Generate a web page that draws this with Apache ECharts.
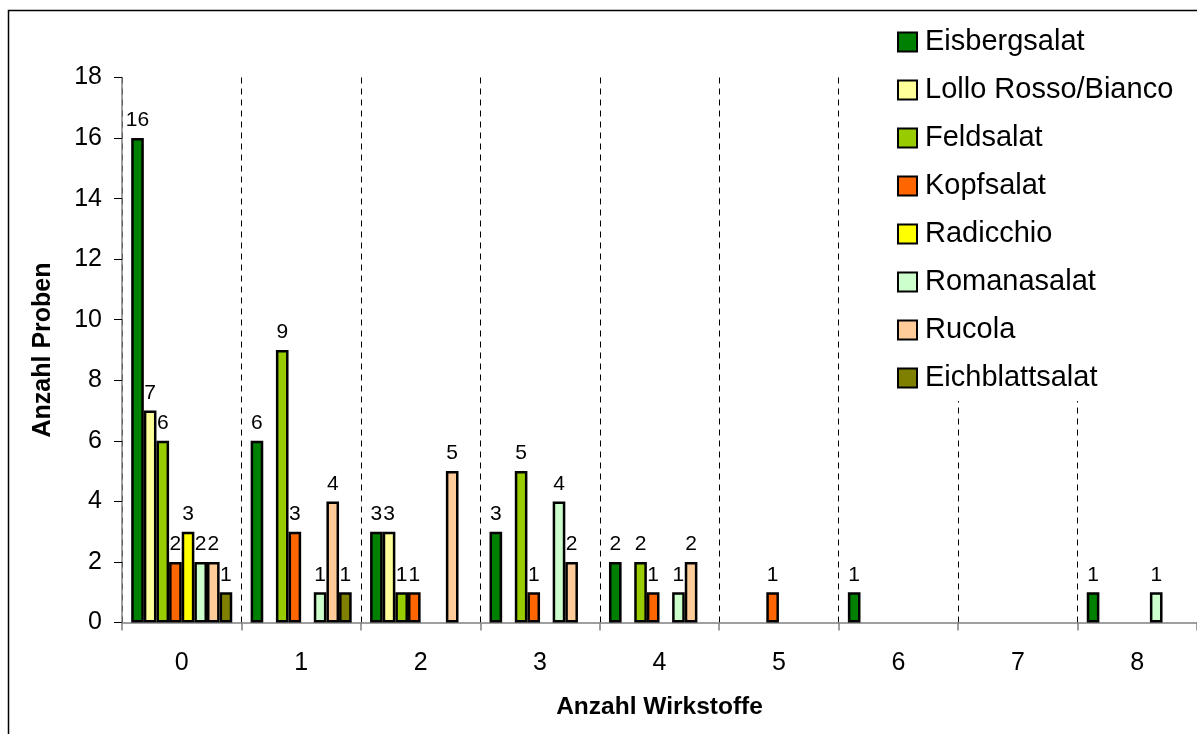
<!DOCTYPE html>
<html>
<head>
<meta charset="utf-8">
<script src="https://cdn.jsdelivr.net/npm/echarts@6/dist/echarts.min.js"></script>
<style>
html,body{margin:0;padding:0;background:#fff;}
#chart{width:1197px;height:734px;}
</style>
</head>
<body>
<div id="chart"></div>
<script>
var categories = ['0','1','2','3','4','5','6','7','8'];
var seriesNames = ['Eisbergsalat','Lollo Rosso/Bianco','Feldsalat','Kopfsalat','Radicchio','Romanasalat','Rucola','Eichblattsalat'];
var eisbergsalat   = [16, 6, 3, 3, 2, null, 1, null, 1];
var lolloRosso     = [7, null, 3, null, null, null, null, null, null];
var feldsalat      = [6, 9, 1, 5, 2, null, null, null, null];
var kopfsalat      = [2, 3, 1, 1, 1, 1, null, null, null];
var radicchio      = [3, null, null, null, null, null, null, null, null];
var romanasalat    = [2, 1, null, 4, 1, null, null, null, 1];
var rucola         = [2, 4, 5, 2, 2, null, null, null, null];
var eichblattsalat = [1, 1, null, null, null, null, null, null, null];
var yTicks = {min: 0, max: 18, interval: 2};

var values = [eisbergsalat, lolloRosso, feldsalat, kopfsalat, radicchio, romanasalat, rucola, eichblattsalat];
var colors = ['#008000','#FFFF99','#99CC00','#FF6600','#FFFF00','#CCFFCC','#FFCC99','#808000'];
var FONT = 'Liberation Sans, Arial, sans-serif';

var chart = echarts.init(document.getElementById('chart'), null, {renderer: 'canvas'});
var series = values.map(function (v, i) {
  return {
    name: seriesNames[i],
    type: 'bar',
    data: v,
    barGap: '0%',
    barCategoryGap: '15.4%',
    itemStyle: {color: colors[i], borderColor: '#000', borderWidth: 2.5},
    label: {show: true, position: 'top', distance: 7, color: '#000', fontFamily: FONT, fontSize: 21},
    emphasis: {disabled: true}
  };
});

chart.setOption({
  animation: false,
  backgroundColor: '#fff',
  textStyle: {fontFamily: FONT},
  graphic: [{
    type: 'rect', z: -10,
    shape: {x: 8.5, y: 10.5, width: 1200, height: 740},
    style: {fill: null, stroke: '#000', lineWidth: 1.5}
  }],
  grid: {left: 122, top: 77.5, right: 0, bottom: 111.5, containLabel: false},
  legend: {
    orient: 'vertical',
    left: 889, top: 19,
    padding: [8, 30, 8, 8],
    backgroundColor: '#fff',
    itemWidth: 19, itemHeight: 19, itemGap: 18,
    icon: 'rect',
    itemStyle: {borderColor: '#000', borderWidth: 2},
    textStyle: {fontFamily: FONT, fontSize: 29, color: '#000', lineHeight: 30, padding: [0, 0, 0, 3]},
    data: seriesNames
  },
  xAxis: {
    type: 'category',
    data: categories,
    name: 'Anzahl Wirkstoffe',
    nameLocation: 'middle',
    nameGap: 72,
    nameTextStyle: {fontFamily: FONT, fontSize: 24.5, fontWeight: 'bold', color: '#000'},
    axisLine: {show: true, lineStyle: {color: '#808080', width: 1.5}},
    axisTick: {show: true, length: 8, lineStyle: {color: '#808080', width: 1.5}},
    axisLabel: {margin: 28, fontFamily: FONT, fontSize: 25, color: '#000'},
    splitLine: {show: true, lineStyle: {color: '#000', type: [6, 5], width: 1}}
  },
  yAxis: {
    type: 'value',
    min: yTicks.min, max: yTicks.max, interval: yTicks.interval,
    name: 'Anzahl Proben',
    nameLocation: 'middle',
    nameGap: 66,
    nameTextStyle: {fontFamily: FONT, fontSize: 25, fontWeight: 'bold', color: '#000'},
    axisLine: {show: true, lineStyle: {color: '#808080', width: 1.5}},
    axisTick: {show: true, length: 8, lineStyle: {color: '#000', width: 1}},
    axisLabel: {margin: 20, fontFamily: FONT, fontSize: 25, color: '#000'},
    splitLine: {show: false}
  },
  series: series
});
</script>
</body>
</html>
